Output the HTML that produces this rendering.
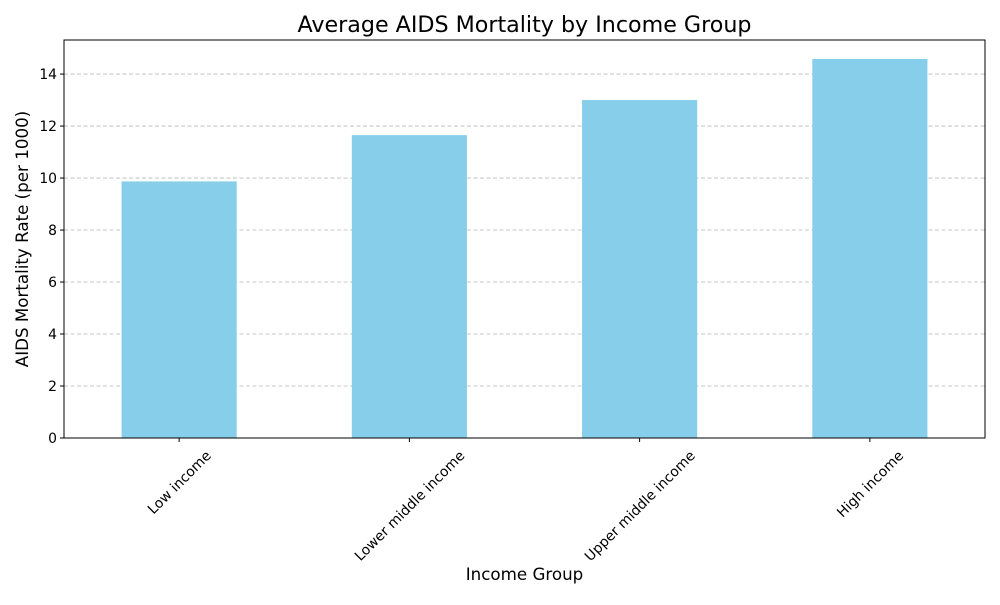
<!DOCTYPE html>
<html><head><meta charset="utf-8"><style>
body{margin:0;background:#fff;}
svg{font-family:"DejaVu Sans","Liberation Sans",sans-serif;}
</style></head><body>
<svg id="chart" width="1000" height="600">
<text x="524.5" y="32" font-size="22.2" text-anchor="middle">Average AIDS Mortality by Income Group</text>
<text x="524.5" y="580" font-size="16.7" text-anchor="middle">Income Group</text>
<text transform="translate(28,239) rotate(-90)" font-size="16.7" text-anchor="middle">AIDS Mortality Rate (per 1000)</text>
<g id="grid"></g><g id="bars"></g><g id="yticks"></g><g id="xticks"></g>
<rect x="64" y="40" width="921" height="398" fill="none" stroke="#000" stroke-width="1"/>
</svg>
<script>
const categories=["Low income","Lower middle income","Upper middle income","High income"];
const values=[9.87,11.65,13.0,14.58];
const yTicks=[0,2,4,6,8,10,12,14];
const L=64,R=985,T=40,B=438,yMax=15.31;
const ns="http://www.w3.org/2000/svg";
const y=v=>B-(v/yMax)*(B-T);
const band=(R-L)/categories.length;
const x=i=>L+band*(i+0.5);
function mk(tag,attrs,parent){const e=document.createElementNS(ns,tag);for(const k in attrs)e.setAttribute(k,attrs[k]);document.getElementById(parent).appendChild(e);return e;}
yTicks.forEach(t=>{
 const g=mk("line",{x1:L,x2:R,y1:y(t),y2:y(t),stroke:"#a8a8a8","stroke-width":0.8,"stroke-dasharray":"4,2.5",opacity:0.8},"grid");
 
 
 const tk=mk("line",{x1:L-4,x2:L,y1:y(t),y2:y(t),stroke:"#000"},"yticks");
 
 
 const tx=mk("text",{x:L-7,y:y(t)+5,"font-size":13.9,"text-anchor":"end"},"yticks");
 tx.textContent=t;
 
 
});
categories.forEach((c,i)=>{
 const w=band*0.5;
 const b=mk("rect",{x:x(i)-w/2,y:y(values[i]),width:w,height:B-y(values[i]),fill:"#87ceeb"},"bars");
 
 
 const tk=mk("line",{x1:x(i),x2:x(i),y1:B,y2:B+4,stroke:"#000"},"xticks");
 
 
 const tx=mk("text",{"font-size":13.9,"text-anchor":"middle"},"xticks");
 tx.textContent=c;
 
 
 const len=tx.getComputedTextLength();
 const half=(len+14)*0.7071/2;
 tx.setAttribute('transform',`translate(${x(i)},${B+10+half}) rotate(-45) translate(0,5)`);
});
</script>
</body></html>
